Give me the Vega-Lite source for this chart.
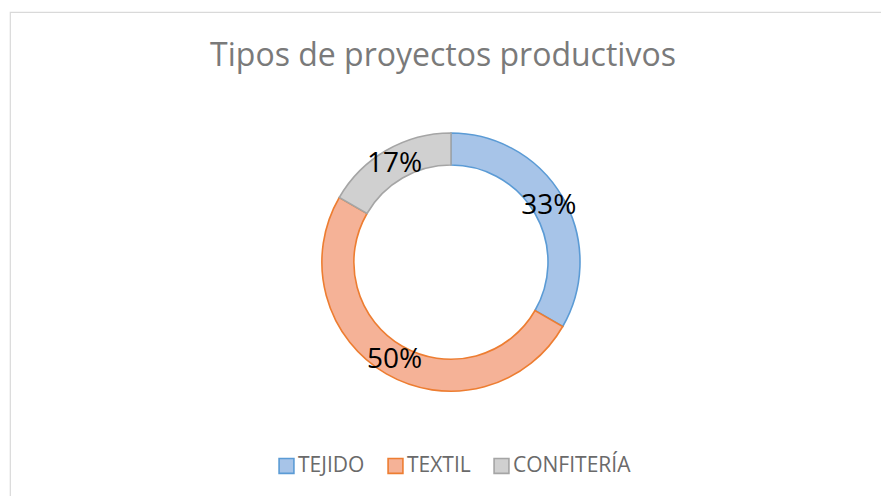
{
  "$schema": "https://vega.github.io/schema/vega-lite/v6.json",
  "autosize": {"type": "none"},
  "width": 882,
  "height": 500,
  "padding": {"left": 10, "top": 12, "right": 0, "bottom": 0},
  "background": "white",
  "view": {"stroke": "#d9d9d9", "strokeWidth": 1.2},
  "config": {
    "view": {"stroke": "#d9d9d9", "strokeWidth": 1.2},
    "font": "Open Sans"
  },
  "title": {
    "text": "Tipos de proyectos productivos",
    "font": "Open Sans",
    "fontSize": 32,
    "fontWeight": "normal",
    "color": "#7a7a7a",
    "anchor": "middle",
    "frame": "group",
    "baseline": "alphabetic",
    "offset": -86,
    "dx": -8
  },
  "data": {
    "values": [
      {"tipo": "TEJIDO", "valor": 2, "orden": 1, "etiqueta": "33%"},
      {"tipo": "TEXTIL", "valor": 3, "orden": 2, "etiqueta": "50%"},
      {"tipo": "CONFITERÍA", "valor": 1, "orden": 3, "etiqueta": "17%"}
    ]
  },
  "encoding": {
    "theta": {"field": "valor", "type": "quantitative", "stack": true},
    "order": {"field": "orden", "type": "quantitative"}
  },
  "layer": [
    {
      "mark": {"type": "arc", "outerRadius": 129, "innerRadius": 97, "strokeWidth": 1.6},
      "encoding": {
        "color": {
          "field": "tipo",
          "type": "nominal",
          "sort": ["TEJIDO", "TEXTIL", "CONFITERÍA"],
          "scale": {"domain": ["TEJIDO", "TEXTIL", "CONFITERÍA"], "range": ["#a7c4e8", "#f5b297", "#d0d0d0"]},
          "legend": {
            "title": null,
            "orient": "none",
            "direction": "horizontal",
            "legendX": 266,
            "legendY": 443,
            "padding": 0,
            "symbolType": "square",
            "symbolSize": 220,
            "symbolStrokeWidth": 1.6,
            "labelFont": "Open Sans",
            "labelFontSize": 21,
            "labelColor": "#6a6a6a",
            "labelOffset": 1,
            "columnPadding": 19,
            "labelLimit": 300
          }
        },
        "stroke": {
          "field": "tipo",
          "type": "nominal",
          "sort": ["TEJIDO", "TEXTIL", "CONFITERÍA"],
          "scale": {"domain": ["TEJIDO", "TEXTIL", "CONFITERÍA"], "range": ["#5b9bd5", "#ed7d31", "#a5a5a5"]},
          "legend": null
        }
      }
    },
    {
      "mark": {"type": "text", "radius": 113, "fontSize": 28, "font": "Open Sans", "color": "#000000", "baseline": "middle", "align": "center"},
      "encoding": {
        "text": {"field": "etiqueta", "type": "nominal"}
      }
    }
  ]
}
